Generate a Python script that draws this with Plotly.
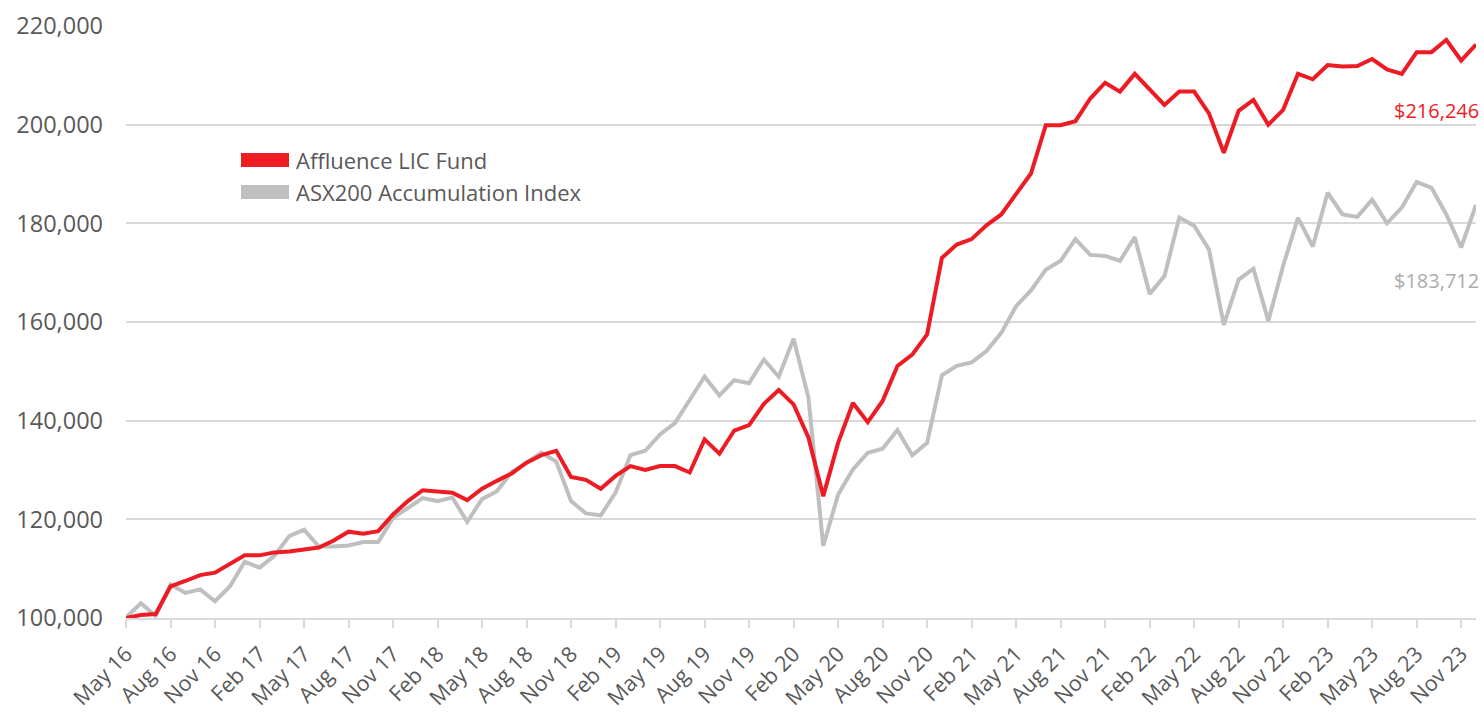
import plotly.graph_objects as go

# ---- data ----
month_names = ["Jan", "Feb", "Mar", "Apr", "May", "Jun", "Jul", "Aug", "Sep", "Oct", "Nov", "Dec"]
months = []
for yr in range(2016, 2024):
    for mi, mn in enumerate(month_names):
        if yr == 2016 and mi < 4:
            continue
        months.append(f"{mn} {str(yr)[2:]}")

affluence = [100000, 100600, 100800, 106400, 107500, 108700, 109200, 111000, 112700, 112700,
             113300, 113500, 114000, 114300, 115700, 117500, 117100,
             117600, 121000, 123700, 125900, 125600, 125400, 123900, 126200, 127800, 129300,
             131500, 133000, 133900, 128600, 128000, 126200,
             128800, 130800, 130000, 130800, 130800, 129500, 136200, 133300, 138000, 139100,
             143400, 146200, 143300, 136600, 124700, 135500,
             143600, 139700, 144000, 151100, 153400, 157500, 173000, 175700, 176800, 179600,
             181800, 185900, 190100,
             199900, 199900, 200700, 205300, 208500, 206700, 210300, 207000, 204000, 206700,
             206700, 202300, 194300, 202800, 205000,
             200000, 203000, 210300, 209200, 212100, 211800, 211900, 213300, 211200, 210300,
             214700, 214700, 217200, 213000, 216246]

asx200 = [100100, 103000, 100400, 106800, 105100, 105800, 103400, 106400, 111400, 110200,
          112600, 116600, 117900, 114500, 114500, 114700, 115400,
          115400, 120300, 122400, 124300, 123700, 124400, 119500, 124100, 125700, 129600,
          131500, 133500, 131700, 123700, 121200, 120800,
          125400, 133000, 133900, 137200, 139500, 144300, 148900, 145100, 148200, 147600,
          152400, 148900, 156600, 144700, 114600, 125000,
          130100, 133500, 134300, 138100, 133000, 135500, 149200, 151100, 151800, 154100,
          157800, 163200, 166400,
          170600, 172400, 176800, 173600, 173400, 172400, 177200, 165700, 169300, 181200,
          179500, 174700, 159400, 168600, 170800,
          160200, 171400, 181100, 175300, 186200, 181800, 181300, 184800, 180000, 183200,
          188400, 187200, 181800, 175100, 183712]

tick_labels = ["May 16", "Aug 16", "Nov 16", "Feb 17", "May 17", "Aug 17", "Nov 17",
               "Feb 18", "May 18", "Aug 18", "Nov 18", "Feb 19", "May 19", "Aug 19",
               "Nov 19", "Feb 20", "May 20", "Aug 20", "Nov 20", "Feb 21", "May 21",
               "Aug 21", "Nov 21", "Feb 22", "May 22", "Aug 22", "Nov 22", "Feb 23",
               "May 23", "Aug 23", "Nov 23"]
y_ticks = [100000, 120000, 140000, 160000, 180000, 200000, 220000]

series_names = ["Affluence LIC Fund", "ASX200 Accumulation Index"]
RED = "#ED1C24"
GREY = "#BFBFBF"
GREY_TEXT = "#ABABAB"
AXIS_TEXT = "#595959"
GRID = "#D9D9D9"

fig = go.Figure()
fig.add_trace(go.Scatter(x=months, y=asx200, mode="lines", name=series_names[1],
                         line=dict(color=GREY, width=4), showlegend=False))
fig.add_trace(go.Scatter(x=months, y=affluence, mode="lines", name=series_names[0],
                         line=dict(color=RED, width=4), showlegend=False))

# end-value labels
fig.add_annotation(x=months[-1], y=202900, xref="x", yref="y", xanchor="right",
                   xshift=5, showarrow=False, text=f"${affluence[-1]:,}",
                   font=dict(family="Open Sans", size=20, color=RED))
fig.add_annotation(x=months[-1], y=168500, xref="x", yref="y", xanchor="right",
                   xshift=5, showarrow=False, text=f"${asx200[-1]:,}",
                   font=dict(family="Open Sans", size=20, color=GREY_TEXT))

# legend drawn manually (wide bar swatches)
W, H = 1350.0, 592.0
def px_x(px):
    return (px - 126) / W
def px_y(py):
    return (618 - py) / H

for (name, col, yc) in [(series_names[0], RED, 160), (series_names[1], GREY, 192)]:
    fig.add_shape(type="rect", xref="paper", yref="paper",
                  x0=px_x(241), x1=px_x(289), y0=px_y(yc + 7), y1=px_y(yc - 7),
                  fillcolor=col, line=dict(width=0))
    fig.add_annotation(x=px_x(294), y=px_y(yc), xref="paper", yref="paper",
                       xanchor="left", yanchor="middle", showarrow=False, text=name,
                       font=dict(family="Open Sans", size=22, color=AXIS_TEXT))

fig.update_layout(
    width=1484, height=713,
    margin=dict(l=126, r=8, t=26, b=95),
    paper_bgcolor="white", plot_bgcolor="white",
    font=dict(family="Open Sans", color=AXIS_TEXT),
)
fig.update_xaxes(
    type="category", range=[0, len(months) - 1],
    tickmode="array", tickvals=tick_labels, ticktext=tick_labels,
    tickangle=-45, tickfont=dict(family="Open Sans", size=21.5, color=AXIS_TEXT),
    ticks="outside", ticklen=8, tickwidth=2, tickcolor=GRID,
    showline=True, linecolor=GRID, linewidth=2,
    showgrid=False, zeroline=False, automargin=False, ticklabelstandoff=5,
)
fig.update_yaxes(
    range=[100000, 220000], tickvals=y_ticks,
    ticktext=[f"{v:,}" for v in y_ticks],
    tickfont=dict(family="Open Sans", size=23.5, color=AXIS_TEXT),
    showgrid=True, gridcolor=GRID, gridwidth=2,
    zeroline=False, showline=False, ticks="", ticklabelstandoff=22,
    automargin=False,
)

fig.write_html(
    "out.html",
    config={"displayModeBar": False},
    post_script="document.body.style.margin='0';document.body.style.overflow='hidden';",
)
